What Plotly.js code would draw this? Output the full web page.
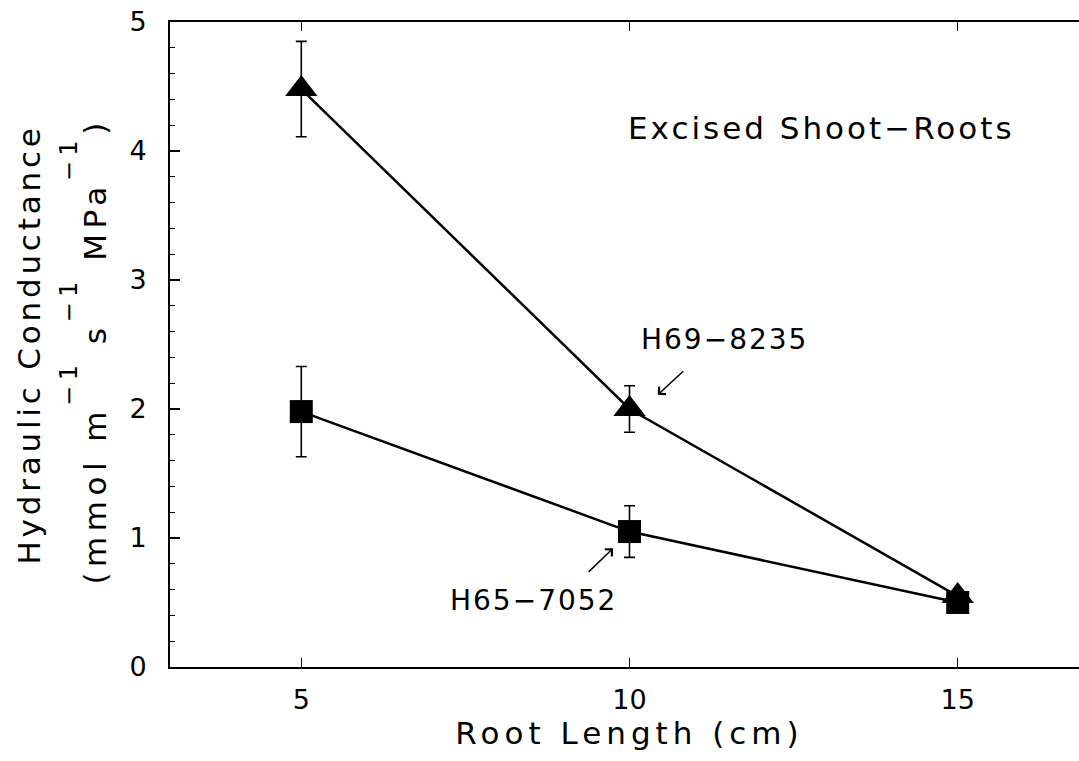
<!DOCTYPE html>
<html>
<head>
<meta charset="utf-8">
<script src="https://cdn.plot.ly/plotly-3.0.1.min.js"></script>
<style>
  html, body { margin: 0; padding: 0; overflow: hidden; background: #fff; }
  #chart { width: 1092px; height: 761px; }
</style>
</head>
<body>
<div id="chart"></div>
<script>
// Root length (cm) for both genotypes
const rootLength = [5, 10, 15];

// Hydraulic conductance (mmol m-1 s-1 MPa-1) and standard errors
const h69Conductance = [4.48, 2.00, 0.55];
const h69Error = [0.37, 0.18, 0.04];
const h65Conductance = [1.98, 1.05, 0.50];
const h65Error = [0.35, 0.20, 0.04];

const xTicks = [5, 10, 15];
const yTicks = [0, 1, 2, 3, 4, 5];

const FONT = '"DejaVu Sans", "Liberation Sans", Arial, sans-serif';
const spaced = (t, px) => '<span style="letter-spacing:' + px + 'px">' + t + '</span>';
const sup = t => '<span style="font-size:24px;baseline-shift:29px">' + t + '</span>';

const h69 = {
  x: rootLength, y: h69Conductance, name: 'H69−8235',
  type: 'scatter', mode: 'lines+markers',
  line: {color: '#000', width: 2.5},
  marker: {symbol: 'triangle-up', size: 28, color: '#000'},
  error_y: {type: 'data', array: h69Error, visible: true, color: '#000', thickness: 1.6, width: 5.5}
};

const h65 = {
  x: rootLength, y: h65Conductance, name: 'H65−7052',
  type: 'scatter', mode: 'lines+markers',
  line: {color: '#000', width: 2.5},
  marker: {symbol: 'square', size: 23, color: '#000'},
  error_y: {type: 'data', array: h65Error, visible: true, color: '#000', thickness: 1.6, width: 5.5}
};

const layout = {
  width: 1092, height: 761,
  margin: {l: 170, r: 3, t: 22, b: 94},
  paper_bgcolor: '#fff', plot_bgcolor: '#fff',
  showlegend: false,
  font: {family: FONT, color: '#000', size: 27},
  xaxis: {
    range: [3, 17], tickvals: xTicks, ticktext: xTicks.map(String),
    ticks: 'inside', ticklen: 9, tickwidth: 1.5, tickcolor: '#000',
    showline: true, linewidth: 2, linecolor: '#000', mirror: 'ticks',
    showgrid: false, zeroline: false,
    tickfont: {family: FONT, size: 27}, ticklabelstandoff: 8,
    title: {text: spaced('Root Length (cm)', 5), font: {size: 31}, standoff: 8}
  },
  yaxis: {
    range: [0, 5], tickvals: yTicks, ticktext: yTicks.map(String),
    ticks: 'inside', ticklen: 10, tickwidth: 1.5, tickcolor: '#000',
    minor: {dtick: 0.2, ticks: 'inside', ticklen: 5, tickwidth: 1.2, tickcolor: '#000', showgrid: false},
    showline: true, linewidth: 2, linecolor: '#000', mirror: 'ticks',
    showgrid: false, zeroline: false,
    tickfont: {family: FONT, size: 27}, ticklabelstandoff: 16,
    title: {text: spaced('Hydraulic Conductance', 3.8), font: {size: 31}, standoff: 80}
  },
  annotations: [
    {
      xref: 'paper', yref: 'paper', x: -0.094, y: 0.49,
      text: spaced('(mmol m' + sup('−1') + ' s' + sup('−1') + ' MPa' + sup('−1') + ')', 5.5),
      textangle: -90, showarrow: false, font: {size: 31},
      xanchor: 'center', yanchor: 'middle'
    },
    {
      x: 12.93, y: 4.18, text: spaced('Excised Shoot−Roots', 3),
      showarrow: false, font: {size: 31}, xanchor: 'center', yanchor: 'middle'
    },
    {
      x: 11.45, y: 2.535, text: spaced('H69−8235', 2),
      showarrow: false, font: {size: 28}, xanchor: 'center', yanchor: 'middle'
    },
    {
      x: 8.53, y: 0.519, text: spaced('H65−7052', 2),
      showarrow: false, font: {size: 28}, xanchor: 'center', yanchor: 'middle'
    },
    {
      x: 10.43, y: 2.11, ax: 27, ay: -25, text: '',
      showarrow: true, arrowhead: 4, arrowsize: 1.3, arrowwidth: 1.5, arrowcolor: '#000', standoff: 0
    },
    {
      x: 9.75, y: 0.92, ax: -26, ay: 25, text: '',
      showarrow: true, arrowhead: 4, arrowsize: 1.3, arrowwidth: 1.5, arrowcolor: '#000', standoff: 0
    }
  ]
};

Plotly.newPlot('chart', [h69, h65], layout, {displayModeBar: false, staticPlot: true});
</script>
</body>
</html>
